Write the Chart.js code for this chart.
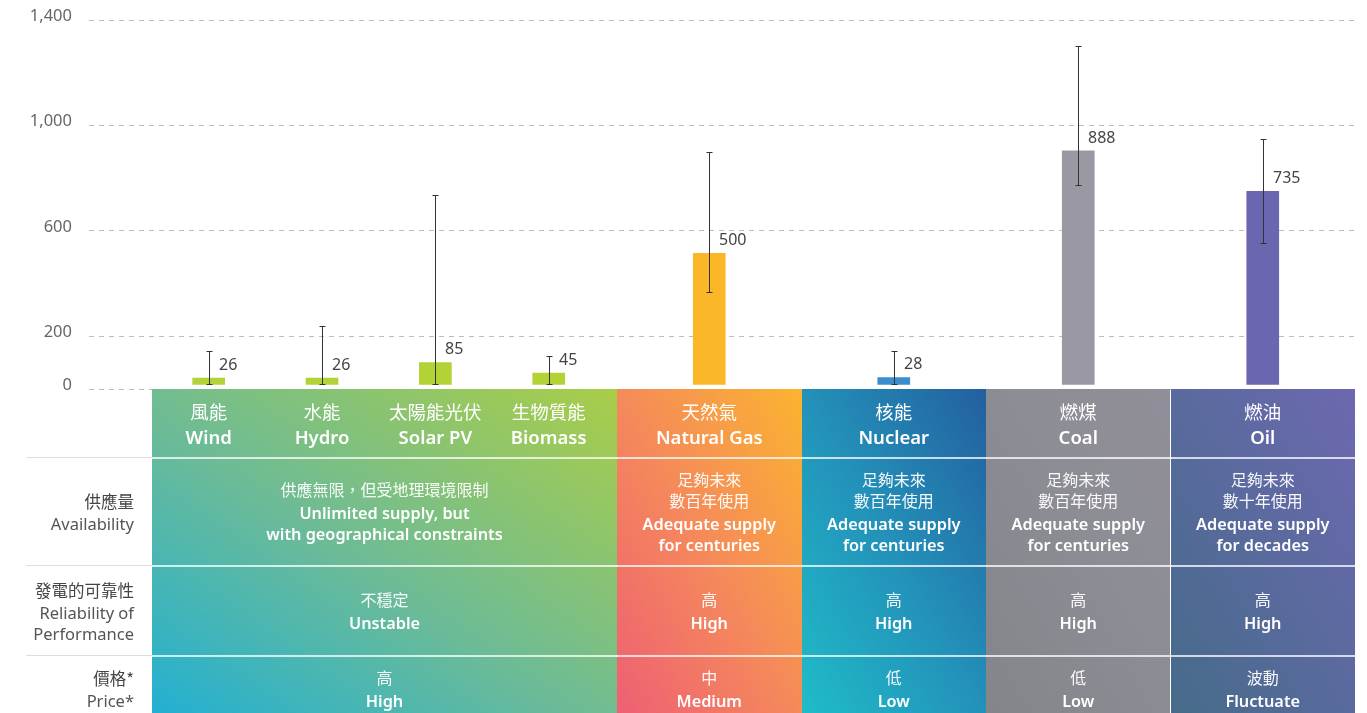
<!DOCTYPE html>
<html>
<head>
<meta charset="utf-8">
<script src="https://cdn.jsdelivr.net/npm/chart.js@4.4.1/dist/chart.umd.min.js"></script>
<style>
  html, body { margin: 0; padding: 0; background: #fff; }
  #wrap { position: relative; width: 1367px; height: 713px; overflow: hidden;
          font-family: "Noto Sans", "Noto Sans CJK TC", sans-serif; }
  #chartBox { position: absolute; left: 0; top: 0; width: 1367px; height: 713px; }
  #table { position: absolute; left: 0; top: 0; width: 1367px; height: 713px; }
  .block, .cell, .line, .label { position: absolute; }
  .cell { display: flex; flex-direction: column; justify-content: center; align-items: center;
          text-align: center; color: #fff; white-space: pre-line; }
  .label { display: flex; flex-direction: column; justify-content: center; align-items: flex-end;
           text-align: right; white-space: pre-line; }
  .zh { font-family: "Noto Sans CJK TC", sans-serif; font-size: 16px; line-height: 21px; color: rgba(255,255,255,0.95); }
  .en { font-size: 16.3px; font-weight: 600; line-height: 21px; }
  .gap { height: 3px; }
  .hzh { font-family: "Noto Sans CJK TC", sans-serif; font-size: 18.5px; line-height: 25px; }
  .hen { font-size: 18.5px; font-weight: 600; line-height: 25px; }
  .lzh { font-family: "Noto Sans CJK TC", sans-serif; font-size: 16.5px; line-height: 23px; color: #444; }
  .len { font-size: 16.5px; line-height: 21px; color: #555; }
</style>
</head>
<body>
<div id="wrap">
  <div id="chartBox"><canvas id="myChart"></canvas></div>
  <div id="table"></div>
</div>
<script>
// ---- data ----
const categoriesZh = ["風能", "水能", "太陽能光伏", "生物質能", "天然氣", "核能", "燃煤", "燃油"];
const categoriesEn = ["Wind", "Hydro", "Solar PV", "Biomass", "Natural Gas", "Nuclear", "Coal", "Oil"];
const values = [26, 26, 85, 45, 500, 28, 888, 735];
const errLow = [0, 0, 0, 0, 349, 0, 755, 535];
const errHigh = [128, 225, 720, 110, 884, 129, 1287, 933];
const yTicks = [0, 200, 600, 1000, 1400];

const rowLabelsZh = ["供應量", "發電的可靠性", "價格*"];
const rowLabelsEn = ["Availability", "Reliability of\nPerformance", "Price*"];
const availZh = ["供應無限，但受地理環境限制", "足夠未來\n數百年使用", "足夠未來\n數百年使用", "足夠未來\n數百年使用", "足夠未來\n數十年使用"];
const availEn = ["Unlimited supply, but\nwith geographical constraints", "Adequate supply\nfor centuries",
                 "Adequate supply\nfor centuries", "Adequate supply\nfor centuries", "Adequate supply\nfor decades"];
const reliabZh = ["不穩定", "高", "高", "高", "高"];
const reliabEn = ["Unstable", "High", "High", "High", "High"];
const priceZh = ["高", "中", "低", "低", "波動"];
const priceEn = ["High", "Medium", "Low", "Low", "Fluctuate"];

// ---- layout / style ----
const groupSpan = [4, 1, 1, 1, 1];
const colWidth = [0.975, 0.975, 0.975, 0.975, 1.587, 1.587, 1.587, 1.587];
const gapAfter = [0, 0, 0, 0.1, 0, 0, 0, 0];
const barColors = ["#b3d236", "#b3d236", "#b3d236", "#b3d236", "#fbb727", "#3c8dcd", "#9a99a3", "#6a66b0"];
const groupFill = [
  "linear-gradient(to top right, #22b0d2 0%, #6cbb97 45%, #aacd48 100%)",
  "linear-gradient(to top right, #ee5f74 0%, #f58a5a 50%, #fbb42f 100%)",
  "linear-gradient(to top right, #1fbcc9 0%, #2391b9 50%, #235f9f 100%)",
  "linear-gradient(to top right, #84858b 0%, #8d8d95 60%, #908f99 100%)",
  "linear-gradient(to top right, #466b8a 0%, #596a9d 50%, #6d68b0 100%)"
];
const plotLeft = 89, tableLeft = 152, plotRight = 1355;
const rowTop = [389, 458, 566, 656, 722];
const barLift = 4;

const edges = [0];
colWidth.forEach((w, i) => edges.push(edges[i] + w + gapAfter[i]));
const centers = colWidth.map((w, i) => edges[i] + w / 2);
const unitPx = (plotRight - tableLeft) / edges[edges.length - 1];
const xMin = -(tableLeft - plotLeft) / unitPx;
const xMax = edges[edges.length - 1];

const liftPlugin = {
  id: "lift",
  beforeDatasetsDraw(chart) { chart.ctx.save(); chart.ctx.translate(0, -barLift); },
  afterDatasetsDraw(chart) { chart.ctx.restore(); }
};

const errorPlugin = {
  id: "errors",
  afterDraw(chart) {
    const ctx = chart.ctx;
    const y = chart.scales.y;
    const bars = chart.getDatasetMeta(0).data;
    ctx.save();
    bars.forEach((bar, i) => {
      const x = Math.round(bar.x) + 0.5;
      const yHi = Math.round(y.getPixelForValue(errHigh[i]) - barLift) + 0.5;
      const yLo = Math.round(y.getPixelForValue(errLow[i]) - barLift) - 0.5;
      ctx.strokeStyle = "#333";
      ctx.lineWidth = 1;
      ctx.beginPath();
      ctx.moveTo(x, yHi); ctx.lineTo(x, yLo);
      ctx.moveTo(x - 3, yHi); ctx.lineTo(x + 3, yHi);
      ctx.moveTo(x - 3, yLo); ctx.lineTo(x + 3, yLo);
      ctx.stroke();
      ctx.fillStyle = "#444";
      ctx.font = '16px "Noto Sans"';
      ctx.textAlign = "left";
      ctx.textBaseline = "middle";
      ctx.fillText(String(values[i]), x + 9.5, bar.y - barLift - 13);
    });
    ctx.restore();
  }
};

const data = {
  datasets: [{
    data: values.map((v, i) => ({ x: centers[i], y: v })),
    backgroundColor: barColors,
    barThickness: 32,
  }]
};

const config = {
  type: "bar",
  data: data,
  plugins: [liftPlugin, errorPlugin],
  options: {
    responsive: true,
    maintainAspectRatio: false,
    animation: false,
    layout: { padding: { top: 20, bottom: 713 - rowTop[0], right: 1367 - plotRight, left: 0 } },
    plugins: {
      legend: { display: false },
      tooltip: { enabled: false },
    },
    scales: {
      x: { type: "linear", display: false, offset: false, min: xMin, max: xMax },
      y: {
        min: 0,
        max: 1400,
        border: { display: false, dash: [5, 5] },
        grid: { color: "#bcbcbc", drawTicks: false },
        afterBuildTicks: (axis) => { axis.ticks = yTicks.map((v) => ({ value: v })); },
        afterFit: (axis) => { axis.width = plotLeft; axis.paddingTop = 0; axis.paddingBottom = 0; },
        ticks: {
          color: "#666",
          font: { family: "Noto Sans", size: 16.5 },
          padding: 17,
          labelOffset: -4,
          callback: (v) => v.toLocaleString("en-US"),
        },
      },
    },
  },
};
const myChart = new Chart(document.getElementById("myChart"), config);

// ---- table under the chart, aligned on the chart's x scale ----
const table = document.getElementById("table");
const xs = myChart.scales.x;
const px = (v) => xs.getPixelForValue(v);

function add(cls, left, top, width, height, html, extra) {
  const d = document.createElement("div");
  d.className = cls;
  Object.assign(d.style, { left: left + "px", top: top + "px", width: width + "px", height: height + "px" }, extra || {});
  if (html) d.innerHTML = html;
  table.appendChild(d);
  return d;
}

let start = 0;
groupSpan.forEach((span, g) => {
  const l = px(edges[start]), r = px(edges[start + span]);
  add("block", l, rowTop[0], r - l, 713 - rowTop[0], "", { background: groupFill[g] });
  const rows = [[availZh, availEn], [reliabZh, reliabEn], [priceZh, priceEn]];
  rows.forEach(([zh, en], k) => {
    const t = rowTop[k + 1], b = rowTop[k + 2];
    add("cell", l, t, r - l, b - t,
      `<div class="zh">${zh[g]}</div><div class="gap"></div><div class="en">${en[g]}</div>`);
  });
  start += span;
});

categoriesZh.forEach((zh, i) => {
  const l = px(edges[i]), r = px(edges[i] + colWidth[i]);
  add("cell", l, rowTop[0], r - l, rowTop[1] - rowTop[0],
    `<div class="hzh">${zh}</div><div class="hen">${categoriesEn[i]}</div>`);
});

rowLabelsZh.forEach((zh, k) => {
  const t = rowTop[k + 1], b = rowTop[k + 2];
  add("label", 0, t, 134, b - t, `<div class="lzh">${zh}</div><div class="len">${rowLabelsEn[k]}</div>`);
});

[rowTop[1], rowTop[2], rowTop[3]].forEach((t) => {
  add("line", 26, t - 1, px(edges[0]) - 26, 1, "", { background: "#dedede" });
  add("line", px(edges[0]), t - 1, px(xMax) - px(edges[0]), 1.5, "", { background: "rgba(255,255,255,0.75)" });
});
</script>
</body>
</html>
